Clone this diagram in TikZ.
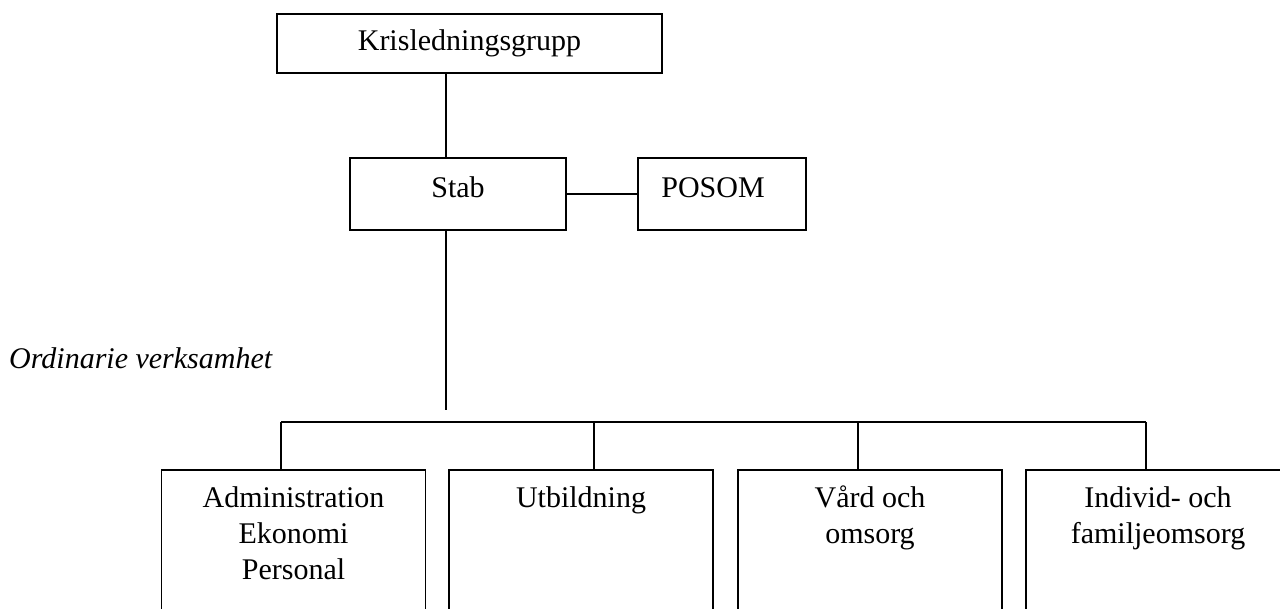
\documentclass[tikz,border=0pt]{standalone}
\usepackage{fontspec}
\setmainfont{Liberation Serif}
\newcommand\lowtext[1]{\parbox[c][150pt][t]{250pt}{\centering\strut #1}}
\tikzset{
  box/.style={draw, line width=1.8pt, rectangle, inner sep=0pt, font=\fontsize{30}{36}\selectfont},
  conn/.style={line width=1.5pt},
  lowbox/.style={draw, line width=1.8pt, rectangle, anchor=north, minimum width=264, inner xsep=7pt, inner ysep=12.8pt, font=\fontsize{30}{36}\selectfont},
  label/.style={inner sep=0pt, font=\fontsize{30}{36}\selectfont\itshape}
}
\begin{document}
\begin{tikzpicture}[x=1pt,y=-1pt]
\useasboundingbox (0,0) rectangle (1280,608);
\clip (0,0) rectangle (1280,608);
\node[box, minimum width=385, minimum height=59, text height=20pt, text depth=7pt] (kris) at (469.5,43.5) {Krisledningsgrupp};
\node[box, minimum width=216, minimum height=72, text height=13pt, text depth=7pt] (stab) at (458,194) {Stab};
\node[box, minimum width=168, minimum height=72, text height=13pt, text depth=7pt] (posom) at (722,194) {POSOM\hspace{18pt}\mbox{}};
\node[label, anchor=base west] (ord) at (9,368) {Ordinarie verksamhet};
\node[lowbox] (adm) at (293.5,469) {\lowtext{Administration\\Ekonomi\\Personal}};
\node[lowbox] (utb) at (581,469) {\lowtext{Utbildning}};
\node[lowbox] (vard) at (870,469) {\lowtext{Vård och\\omsorg}};
\node[lowbox] (ifo) at (1158,469) {\lowtext{Individ- och\\familjeomsorg}};
\coordinate (spine) at (446,410);
\coordinate (d1) at (281,422);
\coordinate (d2) at (594,422);
\coordinate (d3) at (858,422);
\coordinate (d4) at (1146,422);
\draw[conn] (kris.south -| spine) -- (stab.north -| spine);
\draw[conn] (stab.east) -- (posom.west);
\draw[conn] (stab.south -| spine) -- (spine);
\draw[conn] (d1) -- (d4);
\draw[conn] (d1) -- (d1 |- adm.north);
\draw[conn] (d2) -- (d2 |- utb.north);
\draw[conn] (d3) -- (d3 |- vard.north);
\draw[conn] (d4) -- (d4 |- ifo.north);
\end{tikzpicture}
\end{document}
